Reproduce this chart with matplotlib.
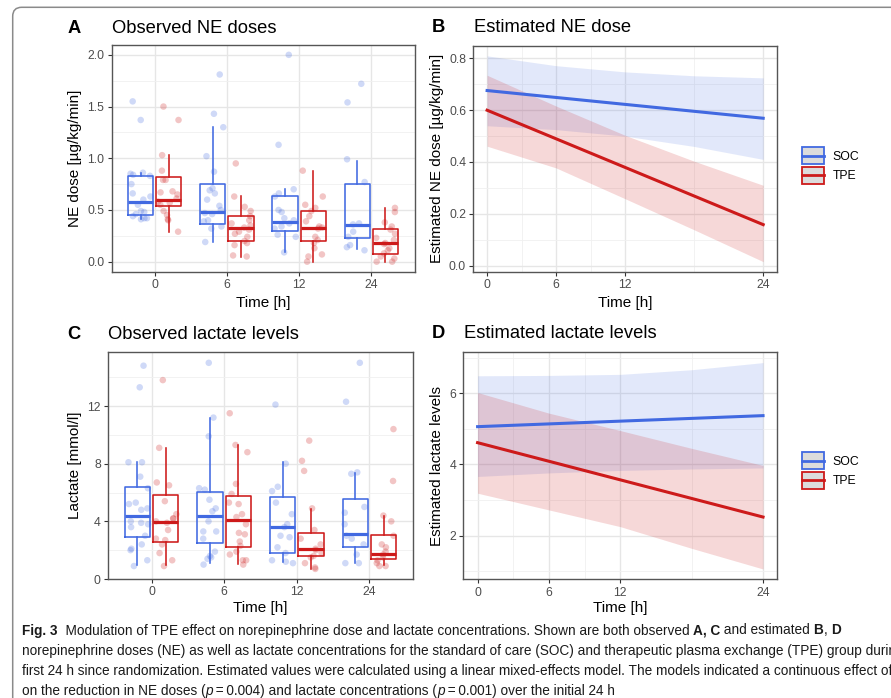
import numpy as np
import matplotlib
matplotlib.use("Agg")
import matplotlib.pyplot as plt
from matplotlib.patches import Rectangle, FancyBboxPatch
from matplotlib.lines import Line2D
from matplotlib.ticker import FixedLocator
from matplotlib.transforms import IdentityTransform

plt.rcParams['font.family'] = ['Liberation Sans', 'DejaVu Sans']

# ---------------------------------------------------------------- data
time_labels = ['0', '6', '12', '24']
group_labels = ['SOC', 'TPE']

# Observed NE doses [µg/kg/min] per patient, SOC
ne_soc_t0 = [1.55, 1.37, 0.86, 0.85, 0.84, 0.83, 0.75, 0.66, 0.63, 0.60, 0.55, 0.49, 0.48, 0.46, 0.44, 0.42, 0.42, 0.41]
ne_soc_t6 = [1.81, 1.43, 1.30, 1.02, 0.87, 0.71, 0.69, 0.66, 0.60, 0.54, 0.50, 0.47, 0.46, 0.40, 0.39, 0.34, 0.32, 0.19]
ne_soc_t12 = [2.00, 1.13, 0.70, 0.66, 0.63, 0.50, 0.48, 0.42, 0.40, 0.37, 0.34, 0.32, 0.26, 0.24, 0.09]
ne_soc_t24 = [1.72, 1.54, 0.99, 0.77, 0.37, 0.36, 0.29, 0.24, 0.16, 0.14, 0.11]
# Observed NE doses, TPE
ne_tpe_t0 = [1.50, 1.37, 1.03, 0.88, 0.79, 0.79, 0.68, 0.67, 0.65, 0.61, 0.58, 0.57, 0.55, 0.49, 0.45, 0.41, 0.40, 0.29]
ne_tpe_t6 = [0.95, 0.63, 0.53, 0.49, 0.44, 0.40, 0.37, 0.35, 0.33, 0.31, 0.29, 0.27, 0.24, 0.20, 0.18, 0.16, 0.06, 0.05]
ne_tpe_t12 = [0.88, 0.63, 0.55, 0.52, 0.49, 0.44, 0.39, 0.34, 0.33, 0.32, 0.24, 0.21, 0.18, 0.13, 0.07, 0.05, 0.00]
ne_tpe_t24 = [0.52, 0.48, 0.38, 0.34, 0.31, 0.27, 0.23, 0.21, 0.18, 0.17, 0.13, 0.11, 0.08, 0.05, 0.03, 0.00, 0.00]

# NE dose box summaries (per time point)
ne_soc_q1 = [0.455, 0.366, 0.300, 0.233]
ne_soc_med = [0.575, 0.479, 0.382, 0.356]
ne_soc_q3 = [0.825, 0.754, 0.631, 0.754]
ne_soc_lo = [0.41, 0.188, 0.09, 0.12]
ne_soc_hi = [0.86, 1.30, 0.705, 0.977]
ne_tpe_q1 = [0.540, 0.204, 0.204, 0.071]
ne_tpe_med = [0.592, 0.330, 0.327, 0.178]
ne_tpe_q3 = [0.816, 0.437, 0.492, 0.317]
ne_tpe_lo = [0.29, 0.049, 0.0, 0.0]
ne_tpe_hi = [1.036, 0.631, 0.88, 0.518]

# Observed lactate [mmol/l] per patient
lac_soc_t0 = [14.8, 13.3, 8.1, 8.1, 7.1, 6.3, 5.3, 5.2, 4.9, 4.8, 4.0, 3.9, 3.8, 3.6, 3.0, 2.4, 2.1, 2.0, 1.3, 0.9]
lac_soc_t6 = [15.0, 11.2, 9.9, 6.3, 6.2, 5.5, 4.9, 4.7, 4.0, 3.3, 3.3, 2.8, 1.9, 1.6, 1.5, 1.4, 1.0]
lac_soc_t12 = [12.1, 8.0, 6.4, 6.1, 5.3, 4.5, 3.8, 3.6, 3.0, 2.9, 2.2, 1.8, 1.3, 1.2, 1.1]
lac_soc_t24 = [15.0, 12.3, 7.4, 7.3, 5.0, 4.6, 3.8, 3.0, 2.8, 2.4, 1.7, 1.1, 1.1]
lac_tpe_t0 = [13.8, 9.1, 6.7, 6.5, 5.4, 4.5, 4.2, 4.2, 4.0, 3.9, 3.4, 2.8, 2.7, 2.4, 1.8, 1.3, 0.9]
lac_tpe_t6 = [11.5, 9.3, 8.8, 6.6, 5.9, 5.3, 5.2, 4.5, 4.3, 3.8, 3.2, 3.1, 2.6, 2.3, 1.9, 1.7, 1.3, 1.3, 1.0]
lac_tpe_t12 = [9.6, 8.2, 7.5, 4.9, 3.4, 2.8, 2.4, 2.1, 2.0, 1.8, 1.6, 1.5, 1.1, 0.8, 0.7]
lac_tpe_t24 = [10.4, 6.8, 4.4, 4.0, 3.0, 2.4, 2.2, 1.9, 1.7, 1.5, 1.3, 1.1, 0.9, 0.9]

# Lactate box summaries
lac_soc_q1 = [2.88, 2.49, 1.80, 2.21]
lac_soc_med = [4.38, 4.38, 3.64, 3.13]
lac_soc_q3 = [6.41, 6.06, 5.71, 5.53]
lac_soc_lo = [0.99, 1.10, 1.15, 1.10]
lac_soc_hi = [8.13, 11.2, 8.13, 7.37]
lac_tpe_q1 = [2.60, 2.21, 1.61, 1.38]
lac_tpe_med = [3.96, 4.06, 2.07, 1.75]
lac_tpe_q3 = [5.83, 5.76, 3.18, 3.02]
lac_tpe_lo = [0.94, 1.06, 0.71, 0.94]
lac_tpe_hi = [9.10, 9.29, 4.84, 4.38]

# Mixed-model estimates: fitted line end points and confidence band
fit_t = [0, 24]
band_t = [0, 6, 12, 18, 24]
est_ne_soc = [0.676, 0.569]
est_ne_soc_lo = [0.540, 0.525, 0.500, 0.460, 0.410]
est_ne_soc_hi = [0.810, 0.772, 0.748, 0.733, 0.725]
est_ne_tpe = [0.600, 0.158]
est_ne_tpe_lo = [0.461, 0.377, 0.258, 0.138, 0.015]
est_ne_tpe_hi = [0.735, 0.616, 0.503, 0.403, 0.310]

est_lac_soc = [5.06, 5.37]
est_lac_soc_lo = [3.66, 3.76, 3.83, 3.87, 3.90]
est_lac_soc_hi = [6.49, 6.50, 6.53, 6.66, 6.86]
est_lac_tpe = [4.61, 2.52]
est_lac_tpe_lo = [3.19, 2.72, 2.25, 1.64, 1.06]
est_lac_tpe_hi = [6.02, 5.44, 4.95, 4.45, 3.97]

# ---------------------------------------------------------------- style
W, H = 891, 698
BLUE = '#4169E1'
RED = '#CD1A1A'
TICK_GREY = '#4D4D4D'
BOX_W = 0.35
DODGE = 0.195

fig = plt.figure(figsize=(W / 100, H / 100), dpi=100)
fig.patch.set_facecolor('white')


def px(x, y):
    return x / W, 1 - y / H


def add_ax(l, t, r, b):
    return fig.add_axes([l / W, 1 - b / H, (r - l) / W, (b - t) / H])


def style_ax(ax, xmajor, ymajor, xminor=None, yminor=None):
    ax.set_facecolor('white')
    for s in ax.spines.values():
        s.set_color('#555555')
        s.set_linewidth(1.0)
    ax.xaxis.set_major_locator(FixedLocator(xmajor))
    ax.yaxis.set_major_locator(FixedLocator(ymajor))
    if xminor is not None:
        ax.xaxis.set_minor_locator(FixedLocator(xminor))
    if yminor is not None:
        ax.yaxis.set_minor_locator(FixedLocator(yminor))
    ax.tick_params(which='major', length=3.0, width=0.8, color='#333333',
                   labelsize=8.8, labelcolor=TICK_GREY, pad=2.2)
    ax.tick_params(which='minor', length=0)
    ax.grid(which='major', color='#E6E6E6', lw=1.0, zorder=0)
    ax.grid(which='minor', color='#F0F0F0', lw=0.6, zorder=0)
    ax.set_axisbelow(True)


def draw_box_group(ax, points, q1, med, q3, lo, hi, offset, color, seed):
    rng = np.random.default_rng(seed)  # horizontal jitter only
    pos = np.arange(1, 5) + offset
    for p, vals in zip(pos, points):
        xs = p + rng.uniform(-0.15, 0.15, len(vals))
        ax.scatter(xs, vals, s=22, color=color, alpha=0.25, edgecolors='none', zorder=2)
    stats = [dict(med=m, q1=a, q3=b, whislo=l, whishi=h, fliers=[])
             for a, m, b, l, h in zip(q1, med, q3, lo, hi)]
    ax.bxp(stats, positions=pos, widths=BOX_W, showcaps=False, showfliers=False,
           boxprops=dict(color=color, lw=1.15),
           whiskerprops=dict(color=color, lw=1.15),
           medianprops=dict(color=color, lw=2.3),
           manage_ticks=False, zorder=3)


class KeyHandler:
    """Legend key: grey box with coloured outline and a coloured line."""

    def legend_artist(self, legend, orig_handle, fontsize, handlebox):
        x0, y0 = handlebox.xdescent, handlebox.ydescent
        w, h = handlebox.width, handlebox.height
        c = orig_handle.get_color()
        tr = handlebox.get_transform()
        rect = Rectangle((-x0, -y0), w, h, facecolor='#DCDCDC', edgecolor=c, lw=1.3, transform=tr)
        line = Line2D([-x0, -x0 + w], [-y0 + h / 2] * 2, color=c, lw=2.0, transform=tr)
        handlebox.add_artist(rect)
        handlebox.add_artist(line)
        return rect


def add_legend(ax, top_px):
    handles = [Line2D([], [], color=BLUE), Line2D([], [], color=RED)]
    ax.legend(handles, group_labels, handler_map={Line2D: KeyHandler()},
              loc='upper left', bbox_to_anchor=px(801.7, top_px), bbox_transform=fig.transFigure,
              frameon=False, fontsize=8.8, handlelength=1.8, handleheight=1.72,
              labelspacing=0.26, handletextpad=0.72, borderpad=0, borderaxespad=0)


def panel_titles(letter, title, letter_x, title_x, y):
    fig.text(*px(letter_x, y), letter, fontsize=13.2, fontweight='bold', ha='left', va='center')
    fig.text(*px(title_x, y), title, fontsize=13.2, ha='left', va='center')


def axis_titles(xlabel, xc, xy, ylabel, yx, yc):
    fig.text(*px(xc, xy), xlabel, fontsize=11, ha='center', va='center')
    fig.text(*px(yx, yc), ylabel, fontsize=11, ha='center', va='center', rotation=90)


# ---------------------------------------------------------------- A
axA = add_ax(111.5, 44.5, 414.5, 272)
style_ax(axA, [1, 2, 3, 4], [0, 0.5, 1.0, 1.5, 2.0], yminor=[0.25, 0.75, 1.25, 1.75])
axA.set_xticklabels(time_labels)
axA.set_yticklabels(['0.0', '0.5', '1.0', '1.5', '2.0'])
draw_box_group(axA, [ne_soc_t0, ne_soc_t6, ne_soc_t12, ne_soc_t24],
               ne_soc_q1, ne_soc_med, ne_soc_q3, ne_soc_lo, ne_soc_hi, -DODGE, BLUE, 11)
draw_box_group(axA, [ne_tpe_t0, ne_tpe_t6, ne_tpe_t12, ne_tpe_t24],
               ne_tpe_q1, ne_tpe_med, ne_tpe_q3, ne_tpe_lo, ne_tpe_hi, DODGE, RED, 12)
axA.set_xlim(0.4, 4.6)
axA.set_ylim(-0.1, 2.1)
panel_titles('A', 'Observed NE doses', 68, 111.5, 28.5)
axis_titles('Time [h]', 263, 302.5, 'NE dose [µg/kg/min]', 75.5, 158)

# ---------------------------------------------------------------- B
axB = add_ax(473.3, 45.5, 777, 272)
style_ax(axB, [0, 6, 12, 24], [0.0, 0.2, 0.4, 0.6, 0.8], xminor=[3, 9, 18],
         yminor=[0.1, 0.3, 0.5, 0.7])
axB.set_xticklabels(time_labels)
axB.set_yticklabels(['0.0', '0.2', '0.4', '0.6', '0.8'])
axB.fill_between(band_t, est_ne_soc_lo, est_ne_soc_hi, color=BLUE, alpha=0.15, lw=0, zorder=1)
axB.fill_between(band_t, est_ne_tpe_lo, est_ne_tpe_hi, color=RED, alpha=0.17, lw=0, zorder=1)
axB.plot(fit_t, est_ne_soc, color=BLUE, lw=2.2, zorder=3)
axB.plot(fit_t, est_ne_tpe, color=RED, lw=2.2, zorder=3)
axB.set_xlim(-1.2, 25.2)
axB.set_ylim(-0.025, 0.85)
add_legend(axB, 147.3)
panel_titles('B', 'Estimated NE dose', 431.5, 474.3, 27.5)
axis_titles('Time [h]', 625, 302.5, 'Estimated NE dose [µg/kg/min]', 437.5, 158.7)

# ---------------------------------------------------------------- C
axC = add_ax(108, 352, 413, 579)
style_ax(axC, [1, 2, 3, 4], [0, 4, 8, 12], yminor=[2, 6, 10, 14])
axC.set_xticklabels(time_labels)
axC.set_yticklabels(['0', '4', '8', '12'])
draw_box_group(axC, [lac_soc_t0, lac_soc_t6, lac_soc_t12, lac_soc_t24],
               lac_soc_q1, lac_soc_med, lac_soc_q3, lac_soc_lo, lac_soc_hi, -DODGE, BLUE, 21)
draw_box_group(axC, [lac_tpe_t0, lac_tpe_t6, lac_tpe_t12, lac_tpe_t24],
               lac_tpe_q1, lac_tpe_med, lac_tpe_q3, lac_tpe_lo, lac_tpe_hi, DODGE, RED, 22)
axC.set_xlim(0.4, 4.6)
axC.set_ylim(0, 15.75)
panel_titles('C', 'Observed lactate levels', 67, 108, 334.5)
axis_titles('Time [h]', 260.5, 608, 'Lactate [mmol/l]', 75, 465.5)

# ---------------------------------------------------------------- D
axD = add_ax(463.3, 352.3, 777.3, 579.3)
style_ax(axD, [0, 6, 12, 24], [2, 4, 6], xminor=[3, 9, 18], yminor=[1, 3, 5, 7])
axD.set_xticklabels(time_labels)
axD.set_yticklabels(['2', '4', '6'])
axD.fill_between(band_t, est_lac_soc_lo, est_lac_soc_hi, color=BLUE, alpha=0.15, lw=0, zorder=1)
axD.fill_between(band_t, est_lac_tpe_lo, est_lac_tpe_hi, color=RED, alpha=0.17, lw=0, zorder=1)
axD.plot(fit_t, est_lac_soc, color=BLUE, lw=2.2, zorder=3)
axD.plot(fit_t, est_lac_tpe, color=RED, lw=2.2, zorder=3)
axD.set_xlim(-1.2, 25.2)
axD.set_ylim(0.77, 7.15)
add_legend(axD, 452.3)
panel_titles('D', 'Estimated lactate levels', 431.5, 464, 334)
axis_titles('Time [h]', 620.3, 608, 'Estimated lactate levels', 437, 465.8)

# ---------------------------------------------------------------- frame
frame = FancyBboxPatch((12.7, -30), 940, H + 30 - 7.3,
                       boxstyle='round,pad=0,rounding_size=9',
                       transform=IdentityTransform(), facecolor='none',
                       edgecolor='#8A8A8A', lw=1.1)
fig.patches.append(frame)

# ---------------------------------------------------------------- caption
CAP_FAMILY = ['Liberation Sans Narrow', 'Liberation Sans', 'DejaVu Sans']
renderer = fig.canvas.get_renderer()

caption_lines = [
    [('Fig. 3', 'b'), ('  Modulation of TPE effect on norepinephrine dose and lactate concentrations. '
                        'Shown are both observed ', 'r'), ('A, C', 'b'), (' and estimated ', 'r'),
     ('B', 'b'), (', ', 'r'), ('D', 'b')],
    [('norepinephrine doses (NE) as well as lactate concentrations for the standard of care (SOC) '
      'and therapeutic plasma exchange (TPE) group during the', 'r')],
    [('first 24 h since randomization. Estimated values were calculated using a linear mixed-effects '
      'model. The models indicated a continuous effect of TPE', 'r')],
    [('on the reduction in NE doses (', 'r'), ('p', 'i'), ('\u2009=\u20090.004) and lactate concentrations (', 'r'),
     ('p', 'i'), ('\u2009=\u20090.001) over the initial 24 h', 'r')],
]
caption_baselines = [634.5, 655.0, 675.5, 695.0]


def text_width(s, size, style):
    t = fig.text(0, 0, s.replace(' ', '\u00a0'), fontsize=size, family=CAP_FAMILY,
                 fontweight='bold' if style == 'b' else 'normal',
                 fontstyle='italic' if style == 'i' else 'normal')
    w = t.get_window_extent(renderer).width
    t.remove()
    return w


def piece_width(s, size, style):
    return text_width('|' + s + '|', size, style) - text_width('||', size, style)


def line_width(pieces, size):
    return sum(piece_width(s, size, st) for s, st in pieces)


# first caption line runs from x=22 to x=838
base = 10.0
cap_size = base * 816.0 / line_width(caption_lines[0], base)

for pieces, y in zip(caption_lines, caption_baselines):
    x = 22.0
    for s, st in pieces:
        fig.text(*px(x, y), s.replace(' ', '\u00a0'), fontsize=cap_size, family=CAP_FAMILY,
                 fontweight='bold' if st == 'b' else 'normal',
                 fontstyle='italic' if st == 'i' else 'normal',
                 ha='left', va='baseline', color='#1A1A1A')
        x += piece_width(s, cap_size, st)

fig.savefig('out.png', dpi=100, facecolor='white')
